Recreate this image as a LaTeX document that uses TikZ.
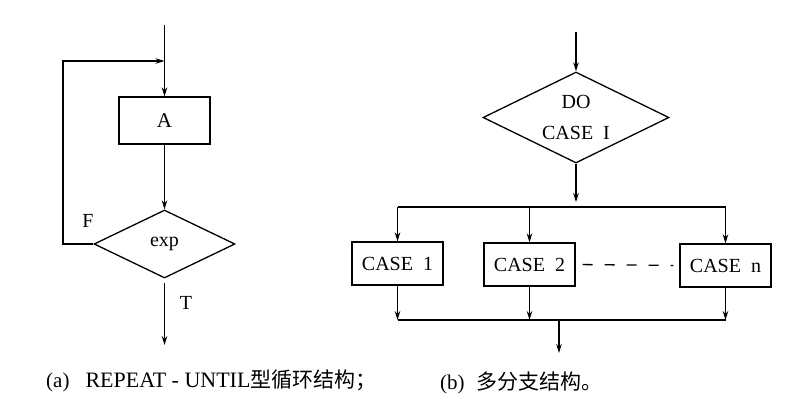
\documentclass[tikz,border=0pt]{standalone}
\usepackage{fontspec}
\setmainfont{Liberation Serif}
\newfontfamily\cjk{Noto Sans CJK SC}
\usetikzlibrary{shapes.geometric,arrows.meta}
\tikzset{
  ln/.style={line width=1.3pt},
  arr/.style={ln,-{Stealth[length=9pt,width=5.5pt]}},
  boxn/.style={draw,ln,rectangle,minimum width=91pt,minimum height=43pt,inner sep=0pt,font=\fontsize{20}{22}\selectfont},
  dia/.style={draw,ln,diamond,aspect=2,inner sep=0pt,font=\fontsize{20}{22}\selectfont},
  lbl/.style={font=\fontsize{20}{22}\selectfont,inner sep=0pt},
  captext/.style={font=\fontsize{21}{22}\selectfont,inner sep=0pt,anchor=west}
}
\begin{document}
\begin{tikzpicture}[x=1pt,y=-1pt]
\useasboundingbox (0,0) rectangle (804,418);
% ---- (a) ----
\node[boxn,minimum height=47pt,font=\fontsize{21}{22}\selectfont] (A) at (164.5,120.5) {A};
\node[dia,minimum width=141pt,minimum height=68pt] (exp) at (164.5,244) {exp};
\coordinate (top1) at (164.5,25);
\coordinate (lp) at (63,61);
\coordinate (lpEnd) at (164.5,61);
\coordinate (bot1) at (164.5,345);
\draw[arr] (top1) -- (A.north);
\draw[arr] (exp.west) -| (lp) -- (lpEnd);
\draw[arr] (A.south) -- (exp.north);
\draw[arr,shorten <=4pt] (exp.south) -- (bot1);
\node[lbl] (F) at (88,221) {F};
\node[lbl] (T) at (186,303) {T};
% ---- (b) ----
\node[dia,minimum width=186pt,minimum height=91pt,align=center] (D) at (576,117.5) {DO\\[9pt]CASE\ \ I};
\node[boxn] (c1) at (397.5,263.5) {CASE\ \ 1};
\node[boxn] (c2) at (529.5,264.5) {CASE\ \ 2};
\node[boxn] (cn) at (725.5,265.5) {CASE\ \ n};
\coordinate (top2) at (576,32);
\coordinate (sp) at (576,207);
\coordinate (jn) at (559,320);
\coordinate (bot2) at (559,353);
\draw[arr] (top2) -- (D.north);
\draw[arr,shorten >=5pt] (D.south) -- (sp);
\draw[ln] (c1.north |- sp) -- (cn.north |- sp);
\draw[arr] (c1.north |- sp) -- (c1.north);
\draw[arr] (c2.north |- sp) -- (c2.north);
\draw[arr] (cn.north |- sp) -- (cn.north);
\draw[arr] (c1.south) -- (c1.south |- jn);
\draw[arr] (c2.south) -- (c2.south |- jn);
\draw[arr] (cn.south) -- (cn.south |- jn);
\draw[ln] (c1.south |- jn) -- (cn.south |- jn);
\draw[arr] (jn) -- (bot2);
\draw[ln,dash pattern=on 10pt off 12pt,shorten <=7pt,shorten >=6pt] (c2.east) -- (cn.west);
% ---- captions ----
\node[captext] (capA) at (46,381) {(a)\hspace{16pt}{\fontsize{22}{22}\selectfont REPEAT - UNTIL}{\cjk 型循环结构；}};
\node[captext] (capB) at (440,383) {(b)\hspace{12pt}{\cjk 多分支结构。}};
\end{tikzpicture}
\end{document}
